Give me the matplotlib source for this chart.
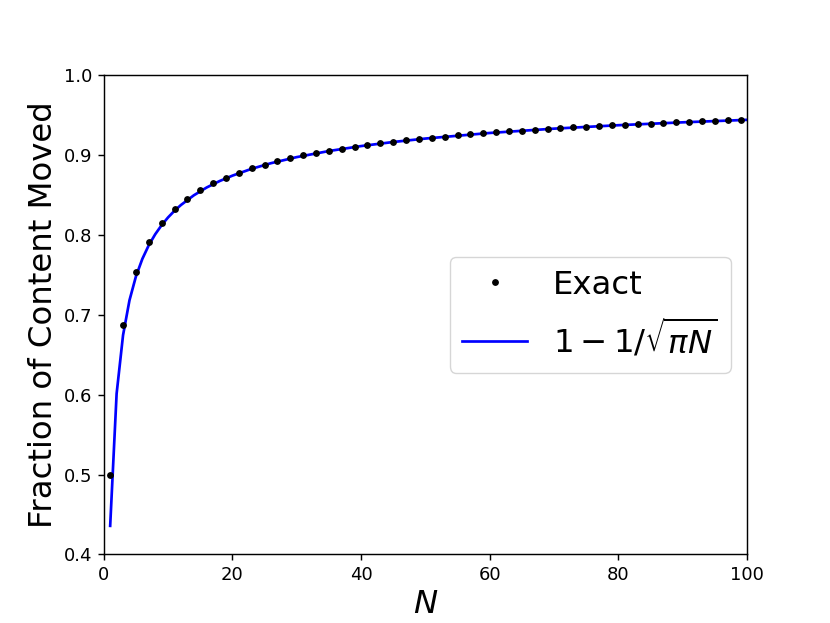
import matplotlib
matplotlib.use("Agg")
import matplotlib.pyplot as plt

# exact values, odd N only
exact_n = list(range(1, 100, 2))
exact_frac = [0.5000, 0.6875, 0.7539, 0.7905, 0.8145, 0.8318, 0.8450, 0.8555,
              0.8642, 0.8714, 0.8776, 0.8830, 0.8877, 0.8919, 0.8957, 0.8991,
              0.9022, 0.9050, 0.9076, 0.9100, 0.9122, 0.9142, 0.9161, 0.9179,
              0.9196, 0.9212, 0.9227, 0.9241, 0.9254, 0.9267, 0.9279, 0.9291,
              0.9302, 0.9312, 0.9322, 0.9332, 0.9341, 0.9350, 0.9358, 0.9366,
              0.9374, 0.9382, 0.9389, 0.9396, 0.9403, 0.9409, 0.9416, 0.9422,
              0.9428, 0.9434]

# approximation curve 1 - 1/sqrt(pi N)
approx_n = [1, 2, 3, 4, 5, 6, 7, 8, 9, 10, 11, 12, 14, 16, 18, 20, 23, 26,
            30, 35, 40, 45, 50, 60, 70, 80, 90, 100]
approx_frac = [0.4358, 0.6011, 0.6743, 0.7179, 0.7477, 0.7697, 0.7868, 0.8005,
               0.8119, 0.8216, 0.8299, 0.8371, 0.8492, 0.8590, 0.8670, 0.8738,
               0.8824, 0.8894, 0.8970, 0.9046, 0.9108, 0.9159, 0.9202, 0.9272,
               0.9326, 0.9369, 0.9405, 0.9436]

s = 1.297  # scale from default 6.4x4.8 fig

fig, ax = plt.subplots(figsize=(8.3, 6.23), dpi=100)
ax.plot(exact_n, exact_frac, 'k.', markersize=6 * s, label='Exact', zorder=3)
ax.plot(approx_n, approx_frac, 'b-', linewidth=1.5 * s, label=r'$1-1/\sqrt{\pi N}$', zorder=2)

ax.set_xlim(0, 100)
ax.set_ylim(0.4, 1.0)
ax.set_xlabel(r'$N$', fontsize=18 * s)
ax.set_ylabel('Fraction of Content Moved', fontsize=18 * s)
ax.tick_params(labelsize=10 * s, width=0.8 * s, length=3.5 * s)
for sp in ax.spines.values():
    sp.set_linewidth(0.8 * s)
ax.legend(loc='center right', fontsize=18 * s)

fig.savefig('out.png')
